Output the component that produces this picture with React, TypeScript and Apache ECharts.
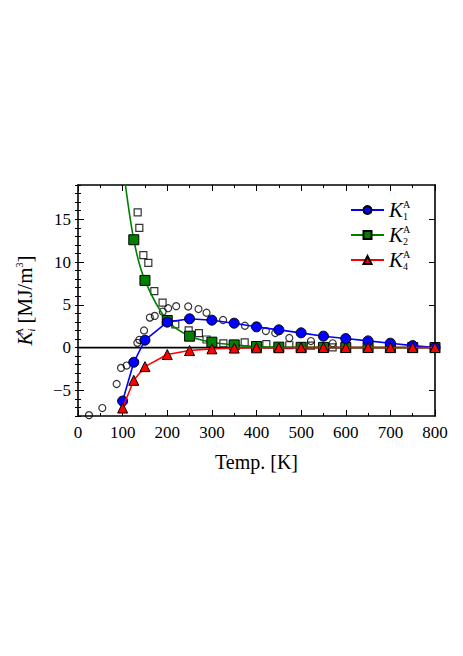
import React, { useEffect, useRef } from 'react';
import * as echarts from 'echarts';

const temps = [100, 125, 150, 200, 250, 300, 350, 400, 450, 500, 550, 600, 650, 700, 750, 800];
const k1 = [-6.25, -1.72, 0.86, 2.97, 3.36, 3.2, 2.85, 2.42, 2.07, 1.72, 1.33, 1.05, 0.78, 0.51, 0.23, 0.0];
const k2 = [21.5, 12.6, 7.85, 3.16, 1.33, 0.63, 0.31, 0.12, 0.05, 0.03, 0.02, 0.01, 0.01, 0.0, 0.0, 0.0];
const k4 = [-7.07, -3.83, -2.23, -0.82, -0.35, -0.15, -0.06, -0.03, -0.02, -0.01, 0.0, 0.0, 0.0, 0.0, 0.0, 0.0];

const expCircleT = [24.6, 54.5, 86.6, 96.4, 109, 133, 137.4, 148, 161, 172, 190, 202, 220, 247, 270, 288, 325, 374, 421, 442, 473.5, 522, 570.7];
const expCircleK = [-7.9, -7.07, -4.26, -2.38, -2.1, 0.55, 0.9, 2.0, 3.5, 3.7, 4.2, 4.6, 4.84, 4.8, 4.5, 4.07, 3.22, 2.55, 1.93, 1.7, 1.12, 0.76, 0.5];

const expSquareT = [133.7, 137.4, 146.4, 157.6, 171, 189.5, 218, 248, 271, 288, 325.7, 373.5, 422, 473.5, 522, 570.5];
const expSquareK = [15.8, 14.0, 10.8, 9.9, 6.6, 5.25, 2.7, 2.0, 1.68, 0.94, 0.5, 0.6, 0.41, 0.27, 0.23, 0.02];

const yMajorTicks = [-5, 0, 5, 10, 15];
const seriesNames = ['K1', 'K2', 'K4'];
const seriesSubs = ['1', '2', '4'];

const FONT = 'Liberation Serif';

const richStyles = {
  k: { fontFamily: FONT, fontStyle: 'italic', fontSize: 21, lineHeight: 22, color: '#000' },
  t: { fontFamily: FONT, fontSize: 21, lineHeight: 22, color: '#000' },
  sup: { fontFamily: FONT, fontSize: 10, lineHeight: 10, verticalAlign: 'top', color: '#000', width: 0 },
  supl: { fontFamily: FONT, fontSize: 10, lineHeight: 10, verticalAlign: 'top', color: '#000' },
  sub: { fontFamily: FONT, fontSize: 10, lineHeight: 10, verticalAlign: 'bottom', color: '#000' },
  subi: { fontFamily: FONT, fontStyle: 'italic', fontSize: 10, lineHeight: 10, verticalAlign: 'bottom', color: '#000' },
};

const fmtNum = (v: number) => (v < 0 ? '\u2212' + Math.abs(v) : String(v));

export default function App() {
  const ref = useRef<HTMLDivElement>(null);
  useEffect(() => {
    if (!ref.current) return;
    const chart = echarts.init(ref.current, null, { renderer: 'svg' });
    const pair = (xs: number[], ys: number[]) => xs.map((x, i) => [x, ys[i]]);
    const baseX = {
      type: 'value',
      min: 0,
      max: 800,
      interval: 100,
      axisLine: { show: true, onZero: false, lineStyle: { color: '#000', width: 1.6 } },
      axisTick: { show: true, inside: true, length: 6, lineStyle: { color: '#000', width: 1 } },
      minorTick: { show: true, splitNumber: 2, length: 3, lineStyle: { color: '#000', width: 1 } },
      splitLine: { show: false },
    };
    const baseYMajor = {
      type: 'value',
      min: -8,
      max: 19,
      axisLine: { show: true, onZero: false, lineStyle: { color: '#000', width: 1.6 } },
      axisTick: { show: true, inside: true, length: 6, customValues: yMajorTicks, lineStyle: { color: '#000', width: 1 } },
      splitLine: { show: false },
    };
    const baseYMinor = {
      type: 'value',
      min: -8,
      max: 19,
      interval: 1,
      axisLine: { show: false },
      axisLabel: { show: false },
      axisTick: { show: true, inside: true, length: 3, lineStyle: { color: '#000', width: 1 } },
      splitLine: { show: false },
    };
    const option: any = {
      animation: false,
      backgroundColor: '#fff',
      grid: { left: 78, top: 185, width: 357, height: 231 },
      xAxis: [
        {
          ...baseX,
          position: 'bottom',
          axisLabel: { show: true, margin: 8, fontFamily: FONT, fontSize: 17, color: '#000' },
          name: 'Temp. [K]',
          nameLocation: 'middle',
          nameGap: 36,
          nameTextStyle: { fontFamily: FONT, fontSize: 20, color: '#000' },
        },
        { ...baseX, position: 'top', axisLabel: { show: false } },
      ],
      yAxis: [
        {
          ...baseYMajor,
          position: 'left',
          axisLabel: { show: true, margin: 7, customValues: yMajorTicks, formatter: fmtNum, fontFamily: FONT, fontSize: 17, color: '#000' },
          name: '{k|K}{sup|A}{subi|i}{t| [MJ/m}{supl|3}{t|]}',
          nameLocation: 'middle',
          nameGap: 42,
          nameTextStyle: { rich: richStyles },
        },
        { ...baseYMajor, position: 'right', axisLabel: { show: false } },
        { ...baseYMinor, position: 'left' },
        { ...baseYMinor, position: 'right' },
      ],
      legend: {
        data: seriesNames,
        orient: 'vertical',
        left: 345,
        top: 194,
        itemWidth: 33,
        itemHeight: 10,
        itemGap: 3,
        formatter: (name: string) => `{k|K}{sup|A}{sub|${seriesSubs[seriesNames.indexOf(name)]}}`,
        textStyle: { rich: richStyles },
      },
      series: [
        {
          name: 'zero',
          type: 'line',
          data: [[0, 0], [800, 0]],
          showSymbol: false,
          symbol: 'none',
          lineStyle: { color: '#000', width: 1.8 },
          z: 1,
          silent: true,
        },
        {
          name: 'expSquare',
          type: 'scatter',
          data: pair(expSquareT, expSquareK),
          symbol: 'rect',
          symbolSize: 7,
          itemStyle: { color: 'transparent', borderColor: '#000', borderWidth: 1.2 },
          z: 2,
        },
        {
          name: 'expCircle',
          type: 'scatter',
          data: pair(expCircleT, expCircleK),
          symbol: 'circle',
          symbolSize: 7,
          itemStyle: { color: 'transparent', borderColor: '#000', borderWidth: 1.2 },
          z: 2,
        },
        {
          name: 'K1',
          type: 'line',
          data: pair(temps, k1),
          symbol: 'circle',
          symbolSize: 10,
          showAllSymbol: true,
          lineStyle: { color: '#0000ff', width: 1.6 },
          itemStyle: { color: '#0000ff', borderColor: '#000', borderWidth: 1 },
          z: 4,
        },
        {
          name: 'K2',
          type: 'line',
          data: pair(temps, k2),
          symbol: 'rect',
          symbolSize: 10,
          smooth: 0.3,
          showAllSymbol: true,
          lineStyle: { color: '#008000', width: 1.6 },
          itemStyle: { color: '#008000', borderColor: '#000', borderWidth: 1 },
          z: 3,
        },
        {
          name: 'K4',
          type: 'line',
          data: pair(temps, k4),
          symbol: 'triangle',
          symbolSize: 10,
          showAllSymbol: true,
          lineStyle: { color: '#ff0000', width: 1.6 },
          itemStyle: { color: '#ff0000', borderColor: '#000', borderWidth: 1 },
          z: 5,
        },
      ],
    };
    chart.setOption(option);
    return () => chart.dispose();
  }, []);
  return (
    <div
      ref={ref}
      style={{ position: 'fixed', left: 0, top: 0, width: 463, height: 656, background: '#fff' }}
    />
  );
}
